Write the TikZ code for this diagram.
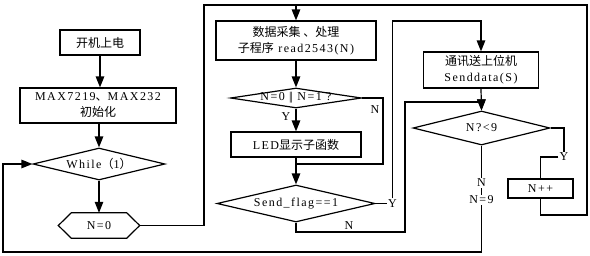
\documentclass[tikz,border=0pt]{standalone}
\usepackage{fontspec}
\setmainfont{Liberation Serif}[LetterSpace=12]
\newfontfamily\cjk{Noto Sans CJK SC}
\usetikzlibrary{arrows.meta,shapes.geometric,calc}
\tikzset{
  ln/.style={line width=1.2pt},
  arr/.style={line width=1.2pt,-{Triangle[length=11pt,width=8.5pt]}},
  box/.style={draw,line width=1.2pt,inner sep=0pt,align=center},
  dia/.style={draw,diamond,line width=1.2pt,inner sep=0pt},
  hexbox/.style={inner sep=0pt},
  lab/.style={inner sep=1pt},
  wlab/.style={inner sep=1pt,fill=white}
}
\begin{document}
\begin{tikzpicture}[x=1pt,y=-1pt,every node/.append style={font=\fontsize{12}{16}\selectfont}]
\useasboundingbox (0,0) rectangle (590,255);
% column 1
\node[box,minimum width=80,minimum height=25] (a) at (100,42.5) {\cjk 开机上电};
\node[box,minimum width=156,minimum height=35] (b) at (98,105.5) {MAX7219{\cjk 、}MAX232\\{\cjk 初始化}};
\node[dia,minimum width=132,minimum height=32] (w) at (99,164) {};
\node[lab] (wt) at (w) {While{\cjk （}1{\cjk ）}};
\node[hexbox,minimum width=81,minimum height=25] (h) at (99,225.5) {N=0};
\draw[ln] (h.west) -- ($(h.north west)+(13,0)$) -- ($(h.north east)+(-13,0)$) -- (h.east)
  -- ($(h.south east)+(-13,0)$) -- ($(h.south west)+(13,0)$) -- cycle;
% column 2
\node[box,minimum width=160,minimum height=39] (d) at (296,40.5) {{\cjk 数据采集 、处理}\\{\cjk 子程序} read2543(N)};
\node[dia,minimum width=131,minimum height=20] (e) at (296,98) {};
\node[lab] (et) at (e) {N=0 |\kern-1pt| N=1 ?};
\node[box,minimum width=130,minimum height=25] (f) at (296,144.5) {LED{\cjk 显示子函数}};
\node[dia,minimum width=158,minimum height=37] (g) at (296,203.5) {};
\node[lab] (gt) at (g) {Send\_flag==1};
% column 3
\node[box,minimum width=115,minimum height=36] (i) at (481,70) {{\cjk 通讯送上位机}\\Senddata(S)};
\node[dia,minimum width=137,minimum height=34] (q) at (481.5,128) {};
\node[lab] (qt) at (q) {N?<9};
\node[box,minimum width=65,minimum height=19] (p) at (540.5,188.5) {N++};
% helper coordinates
\coordinate (TL) at (204,5);
\coordinate (TR) at (587,5);
\coordinate (RB) at (587,215);
\coordinate (NJ) at (383,164);
\coordinate (TY) at (393,21);
\coordinate (GB) at (296,232);
\coordinate (NL) at (405,102);
\coordinate (LB) at (3,252);
% labels (unfilled)
\node[lab] (ey) at (286,117) {Y};
\node[lab] (en) at (375,110) {N};
\node[lab,anchor=west] (gy) at (387,203.5) {Y};
\node[lab] (qy) at (564,157) {Y};
% connectors
\draw[arr] (a.south) -- (a.south |- b.north);
\draw[arr] (w.north |- b.south) -- (w.north);
\draw[arr] (w.south) -- (h.north);
\draw[ln] (h.east) -| (TL) -- (TR) -- (RB) -| (p.south);
\draw[arr] (d.north |- TL) -- (d.north);
\draw[arr] (d.south) -- (e.north);
\draw[arr] (e.south) -- (f.north);
\draw[ln] (e.east) -| (NJ) -- (NJ -| f.south);
\draw[arr] (f.south) -- (g.north);
\draw[ln] (g.east) -- (gy.west);
\draw[arr] (gy.north) -- (gy.north |- TY) -| (i.north);
\draw[arr] (g.south) -- (GB) -| (NL) -| (q.north);
\draw[arr] (i.south) -- (q.north);
\draw[ln] (q.east) -| (qy.north);
\draw[ln] (qy.west) -| (p.north);
\draw[arr] (q.south) -- (q.south |- LB) -- (LB) |- (w.west);
% labels over lines
\node[wlab] (gn) at (349,226) {N};
\node[wlab] (qn) at (481.5,183) {N};
\node[wlab] (q9) at (481.5,200) {N=9};
\end{tikzpicture}
\end{document}
